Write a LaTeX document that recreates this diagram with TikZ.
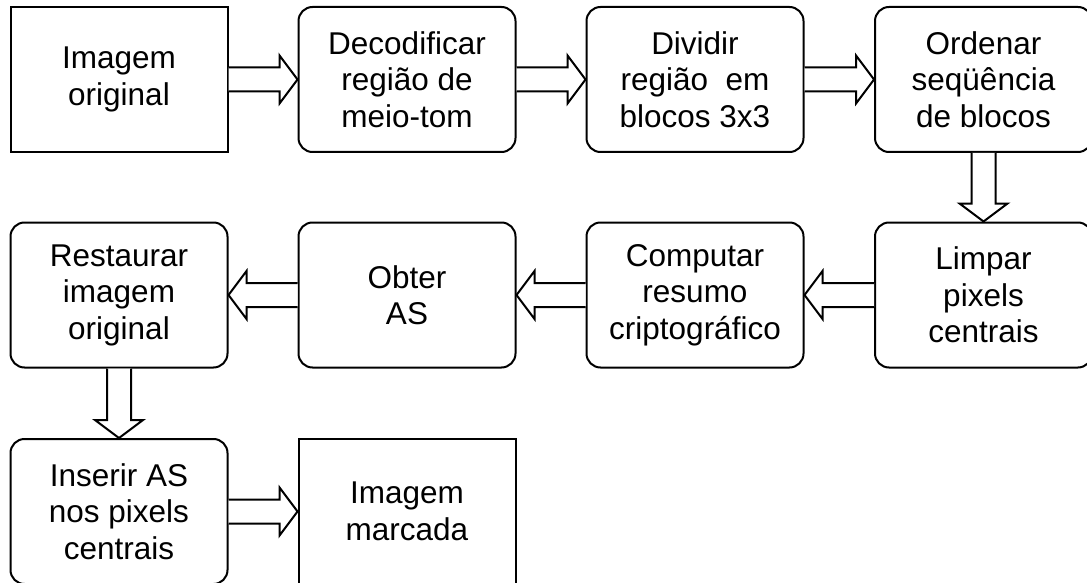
\documentclass[tikz,border=0pt]{standalone}
\usepackage{fontspec}
\setmainfont{Liberation Sans}
\usetikzlibrary{calc}
\tikzset{
	plainbox/.style={
			draw, line width=2pt, minimum width=217pt, minimum height=145pt,
			align=center, inner sep=0pt, font=\fontsize{31.5}{36.5}\selectfont
		},
	roundbox/.style={plainbox, rounded corners=14pt},
	hollow/.style={draw, line width=2pt, line join=miter, fill=white}
}
% block arrow from anchor #1 to anchor #2
\newcommand{\blockarrow}[2]{%
	\path ($(#2)!18pt!(#1)$) coordinate (h);
	\draw[hollow] ($(#1)!12pt!90:(#2)$) -- ($(h)!12pt!90:(#2)$) -- ($(h)!24pt!90:(#2)$) -- (#2)
		-- ($(h)!24pt!-90:(#2)$) -- ($(h)!12pt!-90:(#2)$) -- ($(#1)!12pt!-90:(#2)$);
}

\begin{document}
\begin{tikzpicture}[x=1pt, y=-1pt]
        \useasboundingbox (0,0) rectangle (1087,583);
        
        % First row
        \node[plainbox] (orig) at (119, 79.5) {Imagem\\original};
        \node[roundbox] (decod) at (407, 79.5) {Decodificar\\região de\\meio-tom};
        \node[roundbox] (divid) at (695, 79.5) {Dividir\\região\ \ em\\blocos 3x3};
        \node[roundbox] (orden) at (983.5, 79.5) {Ordenar\\seqüência\\de blocos};
        
        % Second row
        \node[roundbox] (restaur) at (119, 295) {Restaurar\\imagem\\original};
        \node[roundbox] (obter) at (407, 295) {Obter\\AS};
        \node[roundbox] (comput) at (695, 295) {Computar\\resumo\\criptográfico};
        \node[roundbox] (limpar) at (983.5, 295) {Limpar\\pixels\\centrais};
        
        % Third row
        \node[roundbox] (inserir) at (119, 511.5) {Inserir AS\\nos pixels\\centrais};
        \node[plainbox] (marcada) at (407, 511.5) {Imagem\\marcada};
        
        % Arrows
        \blockarrow{orig.east}{decod.west}
        \blockarrow{decod.east}{divid.west}
        \blockarrow{divid.east}{orden.west}
        \blockarrow{orden.south}{limpar.north}
        \blockarrow{limpar.west}{comput.east}
        \blockarrow{comput.west}{obter.east}
        \blockarrow{obter.west}{restaur.east}
        \blockarrow{restaur.south}{inserir.north}
        \blockarrow{inserir.east}{marcada.west}
    \end{tikzpicture}
\end{document}
